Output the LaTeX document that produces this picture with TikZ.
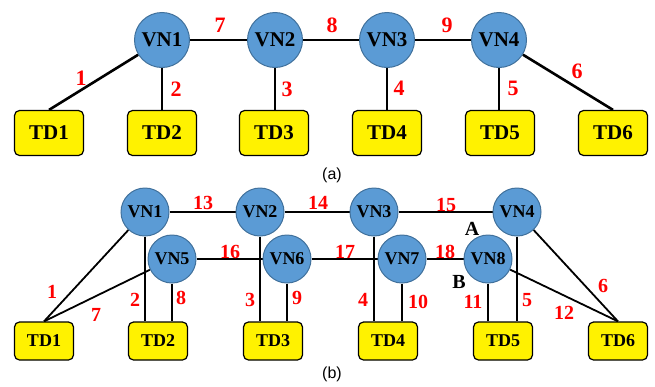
\documentclass[tikz,border=0pt]{standalone}
\usepackage{fontspec}
\setmainfont{Liberation Serif}
\newfontfamily\tnr{Liberation Serif}[BoldFont={Liberation Serif Bold}]
\newfontfamily\capfont{Liberation Sans}
\usetikzlibrary{backgrounds}
\definecolor{vnblue}{HTML}{5B9BD5}
\definecolor{vnedge}{HTML}{41719C}
\definecolor{lblred}{HTML}{FF0000}
\begin{document}
\begin{tikzpicture}[x=1pt,y=-1pt,
  vna/.style={circle, fill=vnblue, draw=vnedge, line width=1pt, minimum size=55pt, inner sep=0pt, font=\tnr\fontsize{21}{21}\selectfont\bfseries},
  vnb/.style={circle, fill=vnblue, draw=vnedge, line width=1pt, minimum size=48pt, inner sep=0pt, font=\tnr\fontsize{18}{18}\selectfont\bfseries},
  tda/.style={rectangle, rounded corners=5pt, fill=yellow, draw=black, line width=1.2pt, minimum width=69pt, minimum height=45pt, inner sep=0pt, font=\tnr\fontsize{21}{21}\selectfont\bfseries},
  tdb/.style={rectangle, rounded corners=5pt, fill=yellow, draw=black, line width=1.2pt, minimum width=59pt, minimum height=38pt, inner sep=0pt, font=\tnr\fontsize{18}{18}\selectfont\bfseries},
  lbla/.style={text=lblred, inner sep=0pt, font=\tnr\fontsize{22}{22}\selectfont\bfseries},
  lblb/.style={text=lblred, inner sep=0pt, font=\tnr\fontsize{20}{20}\selectfont\bfseries},
  ptlbl/.style={text=black, inner sep=0pt, font=\tnr\fontsize{20}{20}\selectfont\bfseries},
  caplbl/.style={inner sep=0pt, font=\capfont\fontsize{16}{16}\selectfont},
  linka/.style={line width=2.6pt, black},
  linkb/.style={line width=2.2pt, black},
  linkd/.style={line width=1.8pt, black}
]
\useasboundingbox (0,0) rectangle (655,386);
% ---------- (a) ----------
\node[vna] (a1) at (162,40) {VN1};
\node[vna] (a2) at (275,40) {VN2};
\node[vna] (a3) at (387,40) {VN3};
\node[vna] (a4) at (499,40) {VN4};
\node[tda] (at1) at (49,133) {TD1};
\node[tda] (at2) at (162,133) {TD2};
\node[tda] (at3) at (274,133) {TD3};
\node[tda] (at4) at (387,133) {TD4};
\node[tda] (at5) at (500,133) {TD5};
\node[tda] (at6) at (613,133) {TD6};
\begin{pgfonlayer}{background}
\draw[linka] (a1) -- (a2);
\draw[linka] (a2) -- (a3);
\draw[linka] (a3) -- (a4);
\draw[linka] (a1) -- (at1.north);
\draw[linka] (a1.south) -- (at2.north);
\draw[linka] (a2.south) -- (a2.south |- at3.north);
\draw[linka] (a3.south) -- (at4.north);
\draw[linka] (a4.south) -- (a4.south |- at5.north);
\draw[linka] (a4) -- (at6.north);
\end{pgfonlayer}
\node[lbla] (la1) at (81,78) {1};
\node[lbla] (la2) at (176,89) {2};
\node[lbla] (la3) at (287,89) {3};
\node[lbla] (la4) at (399,88) {4};
\node[lbla] (la5) at (513,88) {5};
\node[lbla] (la6) at (577,71) {6};
\node[lbla] (la7) at (220,25) {7};
\node[lbla] (la8) at (332,25) {8};
\node[lbla] (la9) at (447,25) {9};
\node[caplbl] (capa) at (332,175) {(a)};
% ---------- (b) ----------
\node[vnb] (b1) at (145,212) {VN1};
\node[vnb] (b2) at (260,212) {VN2};
\node[vnb] (b3) at (374,212) {VN3};
\node[vnb] (b4) at (517,212) {VN4};
\node[vnb] (b5) at (172,259) {VN5};
\node[vnb] (b6) at (287,259) {VN6};
\node[vnb] (b7) at (402,259) {VN7};
\node[vnb] (b8) at (488,259) {VN8};
\node[tdb] (bt1) at (44,341) {TD1};
\node[tdb] (bt2) at (158,341) {TD2};
\node[tdb] (bt3) at (273,341) {TD3};
\node[tdb] (bt4) at (388,341) {TD4};
\node[tdb] (bt5) at (503,341) {TD5};
\node[tdb] (bt6) at (618,341) {TD6};
\begin{pgfonlayer}{background}
\draw[linkb] (b1) -- (b2);
\draw[linkb] (b2) -- (b3);
\draw[linkb] (b3) -- (b4);
\draw[linkb] (b5) -- (b6);
\draw[linkb] (b6) -- (b7);
\draw[linkb] (b7) -- (b8);
\draw[linkd] (b1) -- (bt1.north);
\draw[linkd] (b5) -- (bt1.north);
\draw[linkb] (b1.south) -- (b1.south |- bt2.north);
\draw[linkd] (b5.south) -- (b5.south |- bt2.north);
\draw[linkd] (b2.south) -- (b2.south |- bt3.north);
\draw[linkd] (b6.south) -- (b6.south |- bt3.north);
\draw[linkd] (b3.south) -- (b3.south |- bt4.north);
\draw[linkd] (b7.south) -- (b7.south |- bt4.north);
\draw[linkd] (b8.south) -- (b8.south |- bt5.north);
\draw[linkd] (b4.south) -- (b4.south |- bt5.north);
\draw[linkd] (b4) -- (bt6.north);
\draw[linkd] (b8) -- (bt6.north);
\end{pgfonlayer}
\node[lblb] (lb13) at (203,203) {13};
\node[lblb] (lb14) at (318,203) {14};
\node[lblb] (lb15) at (446,205) {15};
\node[lblb] (lb16) at (230,252) {16};
\node[lblb] (lb17) at (345,252) {17};
\node[lblb] (lb18) at (445,252) {18};
\node[lblb] (lb1) at (52,292) {1};
\node[lblb] (lb7) at (96,315) {7};
\node[lblb] (lb2) at (135,300) {2};
\node[lblb] (lb8) at (181,298) {8};
\node[lblb] (lb3) at (250,300) {3};
\node[lblb] (lb9) at (297,298) {9};
\node[lblb] (lb4) at (363,300) {4};
\node[lblb] (lb10) at (418,302) {10};
\node[lblb] (lb11) at (473,302) {11};
\node[lblb] (lb5) at (527,300) {5};
\node[lblb] (lb12) at (564,313) {12};
\node[lblb] (lb6) at (603,286) {6};
\node[ptlbl] (ptA) at (472,229) {A};
\node[ptlbl] (ptB) at (459,282) {B};
\node[caplbl] (capb) at (332,374) {(b)};
\end{tikzpicture}
\end{document}
